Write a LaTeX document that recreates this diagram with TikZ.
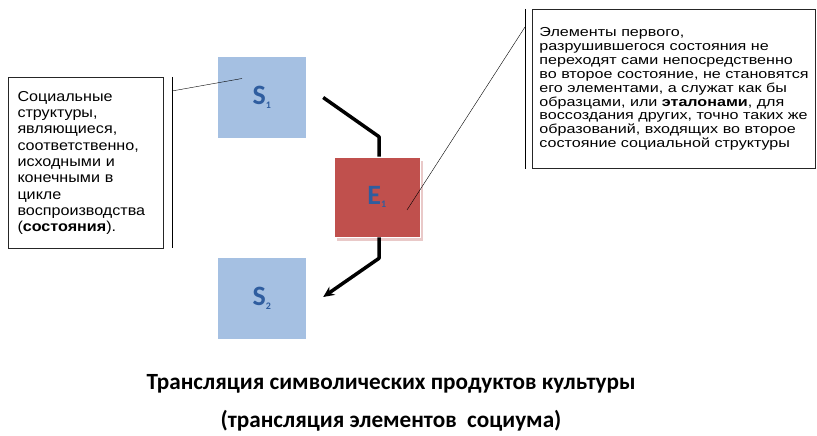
\documentclass[tikz,border=0pt]{standalone}
\usepackage{fontspec}
\setmainfont{Liberation Sans}
\newfontfamily\notafont[FakeStretch=1.12]{Liberation Sans}
\newfontfamily\notaanchafont[FakeStretch=1.24]{Liberation Sans}
\newfontfamily\titulofont{Carlito}
\usetikzlibrary{arrows.meta,positioning,shadows}
\definecolor{azulcaja}{HTML}{A5C0E2}
\definecolor{rojocaja}{HTML}{C0504D}
\definecolor{azulletra}{HTML}{2F5D9F}
\definecolor{sombra}{HTML}{E9C9C8}

\begin{document}
\begin{tikzpicture}[x=1pt,y=-1pt,
    estado/.style={fill=azulcaja,minimum width=88pt,minimum height=81pt,inner sep=0pt,
        text=azulletra,font=\titulofont\bfseries\fontsize{28}{28}\selectfont},
    elemento/.style={estado,fill=rojocaja,draw=white,line width=0.6pt,minimum width=86pt,minimum height=80pt,
        drop shadow={shadow xshift=3pt,shadow yshift=-4pt,fill=sombra,opacity=1}},
    nota/.style={draw=black!85,line width=1pt,anchor=north west,align=left,inner xsep=9pt,inner ysep=0pt},
    flecha/.style={line width=3.5pt,line join=round}]
    \useasboundingbox (0,0) rectangle (817,436);

    % Estados y elemento
    \node[estado] (S1) at (262,97.5) {S\textsubscript{\fontsize{10}{10}\selectfont 1}};
    \node[elemento] (E1) at (377,197) {E\textsubscript{\fontsize{10}{10}\selectfont 1}};
    \node[estado] (S2) at (262,298) {S\textsubscript{\fontsize{10}{10}\selectfont 2}};

    % Notas
    \node[nota,minimum width=155pt,minimum height=171pt,text width=137pt,
          font=\notafont\fontsize{14.4}{16.3}\selectfont] (notaS) at (8,77)
        {Социальные\\ структуры,\\ являющиеся,\\ соответственно,\\ исходными и\\ конечными в\\ цикле\\ воспроизводства\\ (\textbf{состояния}).};
    \node[nota,minimum width=283pt,minimum height=159pt,inner xsep=6pt,
          font=\notaanchafont\fontsize{13}{13.9}\selectfont] (notaE) at (532,9)
        {Элементы первого,\\ разрушившегося состояния не\\ переходят сами непосредственно\\ во второе состояние, не становятся\\ его элементами, а служат как бы\\ образцами, или \textbf{эталонами}, для\\ воссоздания других, точно таких же\\ образований, входящих во второе\\ состояние социальной структуры};

    % Llamadas
    \draw ([xshift=8pt]notaS.north east) -- ([xshift=8pt,yshift=1pt]notaS.south east);
    \draw ([xshift=-7pt]notaE.north west) -- ([xshift=-7pt]notaE.south west);
    \coordinate (puntaS) at ([xshift=-20pt,yshift=19pt]S1.center);
    \coordinate (puntaE) at ([xshift=30pt,yshift=-13pt]E1.center);
    \draw ([xshift=8pt,yshift=-14pt]notaS.north east) -- (puntaS);
    \draw ([xshift=-7pt,yshift=-18pt]notaE.north west) -- (puntaE);

    % Flechas
    \draw[flecha] ([xshift=17pt]S1.east) -- ([xshift=2pt,yshift=20pt]E1.north) -- ([xshift=2pt]E1.north);
    \draw[flecha,-{Stealth[length=11pt,width=10pt]}] ([xshift=2pt]E1.south) -- ([xshift=2pt,yshift=-21pt]E1.south) -- ([xshift=17pt,yshift=1pt]S2.east);

    % Titulo
    \node[font=\titulofont\bfseries\fontsize{23.2}{23.2}\selectfont] (titulo) at (391,384) {Трансляция символических продуктов культуры};
    \node[font=\titulofont\bfseries\fontsize{23.2}{23.2}\selectfont,below=10pt of titulo] (subtitulo) {(трансляция элементов\ \ социума)};
\end{tikzpicture}
\end{document}
